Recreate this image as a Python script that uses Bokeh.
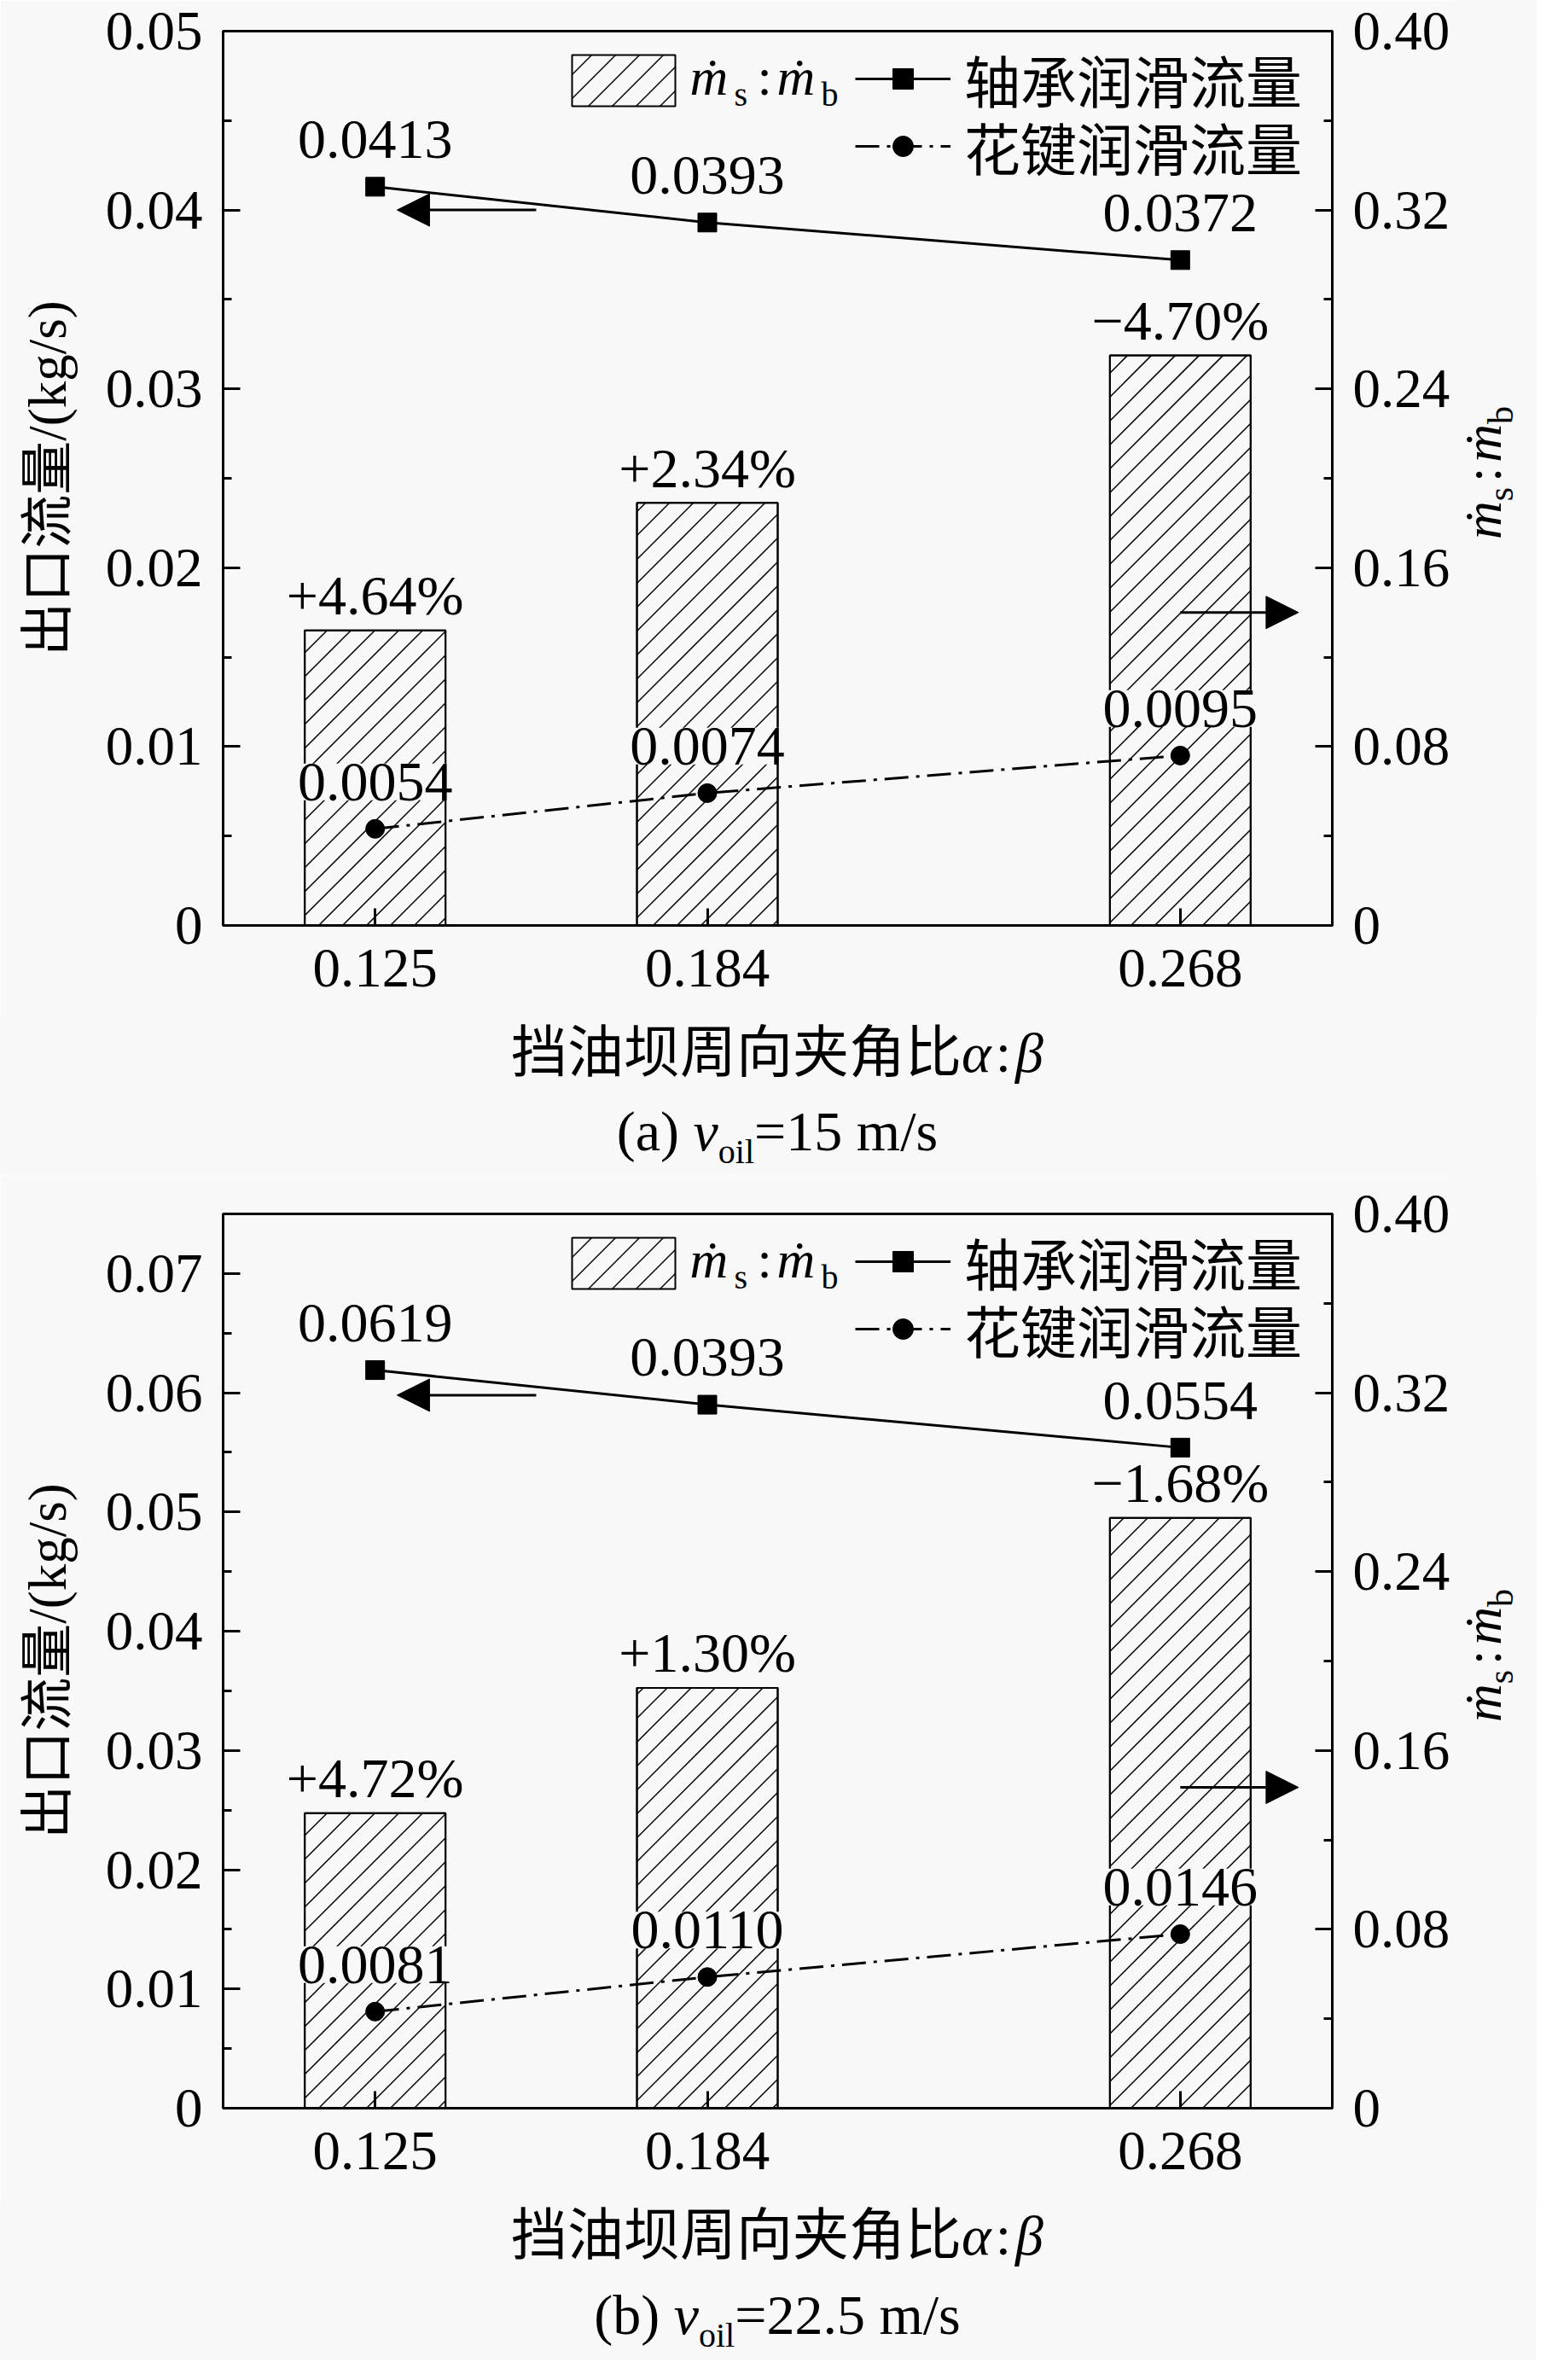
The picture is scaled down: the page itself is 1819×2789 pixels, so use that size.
import math
from bokeh.plotting import figure
from bokeh.models import (Range1d, LinearAxis, FixedTicker, CustomJSTickFormatter,
                          ColumnDataSource, Legend, LegendItem, Label, Arrow,
                          NormalHead, BoxAnnotation, Div)
from bokeh.layouts import column, row
from bokeh.core.properties import value
from bokeh.embed import file_html
from bokeh.resources import INLINE

# ---------------- data ----------------
x_vals = [0.125, 0.184, 0.268]

a_bearing = [0.0413, 0.0393, 0.0372]
a_bearing_text = ["0.0413", "0.0393", "0.0372"]
a_spline = [0.0054, 0.0074, 0.0095]
a_spline_text = ["0.0054", "0.0074", "0.0095"]
a_ratio = [0.132, 0.189, 0.255]
a_ratio_text = ["+4.64%", "+2.34%", "\u22124.70%"]

b_bearing = [0.0619, 0.0590, 0.0554]
b_bearing_text = ["0.0619", "0.0393", "0.0554"]
b_spline = [0.0081, 0.0110, 0.0146]
b_spline_text = ["0.0081", "0.0110", "0.0146"]
b_ratio = [0.132, 0.188, 0.264]
b_ratio_text = ["+4.72%", "+1.30%", "\u22121.68%"]

a_left_ticks = [0, 0.01, 0.02, 0.03, 0.04, 0.05]
a_left_minor = [0.005, 0.015, 0.025, 0.035, 0.045]
b_left_ticks = [0, 0.01, 0.02, 0.03, 0.04, 0.05, 0.06, 0.07]
b_left_minor = [0.005, 0.015, 0.025, 0.035, 0.045, 0.055, 0.065]
right_ticks = [0, 0.08, 0.16, 0.24, 0.32, 0.40]
right_minor = [0.04, 0.12, 0.20, 0.28, 0.36]

a_arrow_left = dict(x0=0.1536, x1=0.1289, y=0.04)
a_arrow_right = dict(x0=0.268, x1=0.289, y=0.14)
b_arrow_left = dict(x0=0.1536, x1=0.1289, y=0.0598)
b_arrow_right = dict(x0=0.268, x1=0.289, y=0.1435)

FONT = "'Liberation Serif', 'DejaVu Serif', 'Noto Sans CJK SC'"
CSSFONT = "'Liberation Serif','DejaVu Serif','Noto Sans CJK SC',serif"
BG = "#f8f8f8"

X_START, X_END = 0.098, 0.295
FRAME_W = 1300
BAR_W = 0.025
HATCH_STEP = 28  # horizontal spacing of the 45-degree hatch lines, px


def hatch_segments(rects, kx, ky):
    """45-degree '/' hatch lines clipped to rectangles (xl, xr, yb, yt), data units."""
    x0s, y0s, x1s, y1s = [], [], [], []
    for (xl, xr, yb, yt) in rects:
        X0, X1 = (xl - X_START) / kx, (xr - X_START) / kx
        Yb, Yt = yb / ky, yt / ky
        c = math.floor((X0 - Yt) / HATCH_STEP) * HATCH_STEP
        while c < X1 - Yb:
            ys, ye = max(Yb, X0 - c), min(Yt, X1 - c)
            if ye > ys:
                x0s.append(X_START + (ys + c) * kx)
                y0s.append(ys * ky)
                x1s.append(X_START + (ye + c) * kx)
                y1s.append(ye * ky)
            c += HATCH_STEP
    return dict(x0=x0s, y0=y0s, x1=x1s, y1=y1s)


SHIFT = 0.32  # compensation for alphabetic baseline placement (in em)


def lab(p, text, x, y, size, italic=False):
    p.add_layout(Label(x=x, y=y + SHIFT * size, x_units="screen", y_units="screen", text=text,
                       text_font=FONT, text_font_size=f"{size}px",
                       text_font_style="italic" if italic else "normal",
                       text_align="left", text_baseline="alphabetic",
                       text_color="black"))


def make_panel(ymax, lticks, lminor, bearing, bearing_text, spline, spline_text,
               ratio, ratio_text, arr_l, arr_r, border_top, frame_h):
    H = frame_h
    kx = (X_END - X_START) / FRAME_W
    ky = 0.40 / H
    p = figure(frame_width=FRAME_W, frame_height=H, title=None,
               x_range=Range1d(X_START, X_END), y_range=Range1d(0, ymax),
               output_backend="svg", toolbar_location=None,
               min_border_left=261, min_border_right=140, min_border_top=border_top,
               min_border_bottom=110,
               background_fill_color=BG, border_fill_color=BG)
    p.extra_y_ranges = {"right": Range1d(0, 0.40)}
    p.xgrid.visible = False
    p.ygrid.visible = False
    p.outline_line_color = "black"
    p.outline_line_width = 3

    p.add_layout(LinearAxis(y_range_name="right"), "right")

    for ax in p.axis:
        ax.axis_line_width = 3
        ax.major_tick_line_width = 3
        ax.minor_tick_line_width = 3
        ax.major_tick_in = 20
        ax.major_tick_out = 0
        ax.minor_tick_in = 10
        ax.minor_tick_out = 0
        ax.major_label_text_font = FONT
        ax.major_label_text_font_size = "65px"
        ax.major_label_text_color = "black"
        ax.major_label_standoff = 24

    p.xaxis.ticker = FixedTicker(ticks=x_vals, minor_ticks=[])
    p.xaxis.formatter = CustomJSTickFormatter(code="return tick.toFixed(3)")
    p.xaxis.major_label_standoff = 28

    yl = p.yaxis[0]
    yl.ticker = FixedTicker(ticks=lticks, minor_ticks=lminor)
    yl.formatter = CustomJSTickFormatter(code="return tick == 0 ? '0' : tick.toFixed(2)")
    yl.axis_label = "出口流量/(kg/s)"
    yl.axis_label_text_font = FONT
    yl.axis_label_text_font_size = "63px"
    yl.axis_label_text_font_style = "normal"
    yl.axis_label_text_color = "black"
    yl.axis_label_standoff = 30

    yr = p.yaxis[1]
    yr.ticker = FixedTicker(ticks=right_ticks, minor_ticks=right_minor)
    yr.formatter = CustomJSTickFormatter(code="return tick == 0 ? '0' : tick.toFixed(2)")

    # bars (right axis) with 45-degree hatch
    bsrc = ColumnDataSource(data=dict(x=x_vals, top=ratio, text=ratio_text))
    p.vbar(x="x", top="top", bottom=0, width=BAR_W, source=bsrc, y_range_name="right",
           fill_color=BG, line_color="black", line_width=2)
    bar_rects = [(xv - BAR_W / 2, xv + BAR_W / 2, 0.0, t) for xv, t in zip(x_vals, ratio)]
    # legend swatch rectangle (frame px -> data)
    sw = (X_START + 409 * kx, X_START + 530 * kx, (H - 88) * ky, (H - 28) * ky)
    hsrc = ColumnDataSource(data=hatch_segments(bar_rects + [sw], kx, ky))
    p.segment(x0="x0", y0="y0", x1="x1", y1="y1", source=hsrc, y_range_name="right",
              line_color="black", line_width=1.5)
    p.vbar(x="x", top="top", bottom=0, width=BAR_W, source=bsrc, y_range_name="right",
           fill_alpha=0, line_color="black", line_width=2)
    p.text(x="x", y="top", text="text", source=bsrc, y_range_name="right",
           text_align="center", text_baseline="alphabetic", y_offset=-20 - SHIFT * 66,
           text_font=value(FONT), text_font_size="66px", text_color="black")

    # lines (left axis)
    s1 = ColumnDataSource(data=dict(x=x_vals, y=bearing, text=bearing_text))
    s2 = ColumnDataSource(data=dict(x=x_vals, y=spline, text=spline_text))
    l1 = p.line("x", "y", source=s1, line_color="black", line_width=3)
    m1 = p.scatter("x", "y", source=s1, marker="square", size=22,
                   fill_color="black", line_color="black")
    l2 = p.line("x", "y", source=s2, line_color="black", line_width=3, line_dash="28 9 4 9")
    m2 = p.scatter("x", "y", source=s2, marker="circle", size=22,
                   fill_color="black", line_color="black")
    for src in (s1, s2):
        p.text(x="x", y="y", text="text", source=src, text_align="center",
               text_baseline="alphabetic", y_offset=-34 - SHIFT * 66,
               text_font=value(FONT), text_font_size="66px", text_color="black",
               background_fill_color=BG)

    # arrows
    p.add_layout(Arrow(end=NormalHead(size=38, fill_color="black", line_color="black"),
                       x_start=arr_l["x0"], y_start=arr_l["y"], x_end=arr_l["x1"], y_end=arr_l["y"],
                       line_width=3, line_color="black"))
    p.add_layout(Arrow(end=NormalHead(size=38, fill_color="black", line_color="black"),
                       x_start=arr_r["x0"], y_start=arr_r["y"], x_end=arr_r["x1"], y_end=arr_r["y"],
                       y_range_name="right", line_width=3, line_color="black"))

    # legend: line items (one legend per row)
    for label, rends, top_rel in (("轴承润滑流量", [l1, m1], 55), ("花键润滑流量", [l2, m2], 134)):
        lg = Legend(items=[LegendItem(label=label, renderers=rends)],
                    location=(741, int(H - top_rel - 49)), orientation="vertical",
                    glyph_width=112, glyph_height=60, label_standoff=16, spacing=0,
                    padding=0, margin=0, border_line_alpha=0, background_fill_alpha=0,
                    label_text_font=FONT, label_text_font_size="66px",
                    label_text_color="black")
        p.add_layout(lg)

    # legend: bar item swatch outline + composed label
    p.add_layout(BoxAnnotation(left=409, right=530, bottom=H - 88, top=H - 28,
                               left_units="screen", right_units="screen",
                               top_units="screen", bottom_units="screen",
                               fill_alpha=0, line_color="black", line_width=2, line_alpha=1))
    base = H - 73
    lab(p, "\u1e41", 547, base, 62, italic=True)
    lab(p, "s", 599, base - 14, 40)
    lab(p, ":", 626, base, 62)
    lab(p, "\u1e41", 649, base, 62, italic=True)
    lab(p, "b", 701, base - 14, 40)
    return p


def right_div(h, cy):
    html = (f'<div style="position:relative;width:99px;height:{h}px;background:{BG};overflow:visible;">'
            f'<div style="position:absolute;left:41px;top:{cy}px;transform:translate(-50%,-50%) rotate(-90deg);'
            f'white-space:nowrap;font-family:{CSSFONT};font-size:62px;line-height:1;color:#000;">'
            '<i>\u1e41</i><span style="font-size:42px;vertical-align:-14px;">s</span>'
            '<span style="margin:0 6px;">:</span>'
            '<i>\u1e41</i><span style="font-size:42px;vertical-align:-14px;">b</span></div></div>')
    return Div(text=html, width=99, height=h, margin=0)


def bottom_div(t_lh, c_lh, caption_html):
    html = (f'<div style="width:1800px;height:{t_lh + c_lh}px;background:{BG};font-family:{CSSFONT};'
            f'color:#000;font-size:66px;white-space:nowrap;">'
            f'<div style="margin-left:261px;width:1300px;text-align:center;height:{t_lh}px;line-height:{t_lh}px;">'
            '挡油坝周向夹角比<i>\u03b1</i><span style="margin:0 5px;">:</span><i>\u03b2</i></div>'
            f'<div style="margin-left:261px;width:1300px;text-align:center;height:{c_lh}px;line-height:{c_lh}px;">'
            f'{caption_html}</div></div>')
    return Div(text=html, width=1800, height=t_lh + c_lh, margin=0)


SUB = '<sub style="font-size:40px;vertical-align:-15px;line-height:0;">oil</sub>'

pa = make_panel(0.05, a_left_ticks, a_left_minor, a_bearing, a_bearing_text,
                a_spline, a_spline_text, a_ratio, a_ratio_text,
                a_arrow_left, a_arrow_right, 36, 1048)
pb = make_panel(0.075, b_left_ticks, b_left_minor, b_bearing, b_bearing_text,
                b_spline, b_spline_text, b_ratio, b_ratio_text,
                b_arrow_left, b_arrow_right, 45, 1048)

ha = 36 + 1048 + 110
hb = 45 + 1048 + 110
layout = column(
    row(pa, right_div(ha, 36 + 518)),
    bottom_div(80, 103, f"(a) <i>v</i>{SUB}=15 m/s"),
    row(pb, right_div(hb, 45 + 518)),
    bottom_div(80, 105, f"(b) <i>v</i>{SUB}=22.5 m/s"),
)
open("out.html", "w").write(file_html(layout, INLINE))
